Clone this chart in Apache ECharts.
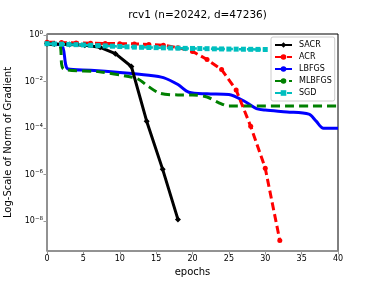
<!DOCTYPE html>
<html>
<head>
<meta charset="utf-8">
<script src="https://cdn.jsdelivr.net/npm/echarts@6/dist/echarts.min.js"></script>
<style>
html,body{margin:0;padding:0;background:#fff;}
#chart{width:376px;height:282px;}
</style>
</head>
<body>
<div id="chart"></div>
<script>
const titleText = 'rcv1 (n=20242, d=47236)';
const xAxisName = 'epochs';
const yAxisName = 'Log-Scale of Norm of Gradient';
const seriesNames = ['SACR', 'ACR', 'LBFGS', 'MLBFGS', 'SGD'];

const sacrEpochs = [0, 1.0, 3.1, 5.2, 7.3, 9.4, 11.6, 13.7, 15.9, 18.0];
const sacrValues = [0.43, 0.42, 0.40, 0.37, 0.30, 0.16, 0.045, 2e-4, 1.7e-6, 1.2e-8];

const acrEpochs = [0, 2, 4, 6, 8, 10, 12, 14, 16, 18, 20, 22, 24, 26, 28, 30, 32];
const acrValues = [0.5, 0.48, 0.46, 0.45, 0.44, 0.43, 0.42, 0.40, 0.37, 0.29, 0.2, 0.09, 0.033, 4.4e-3, 1.2e-4, 1.9e-6, 1.5e-9];

const lbfgsEpochs = [0, 2, 2.9, 6, 10, 14, 16, 18, 19.5, 22, 25, 27.2, 28.8, 30, 33, 36, 37, 38, 40];
const lbfgsValues = [0.42, 0.38, 0.035, 0.031, 0.025, 0.019, 0.015, 0.0075, 0.0035, 0.003, 0.0028, 0.0014, 0.0007, 0.0006, 0.0005, 0.0004, 0.0002, 0.0001, 0.0001];

const mlbfgsEpochs = [0, 1.7, 2.3, 7, 11, 12.5, 14, 15.5, 18, 20, 22, 23.5, 25, 40];
const mlbfgsValues = [0.42, 0.38, 0.035, 0.027, 0.017, 0.013, 0.006, 0.0032, 0.0027, 0.0027, 0.0022, 0.0013, 0.0009, 0.0009];

const sgdEpochs = [0,1,2,3,4,5,6,7,8,9,10,11,12,13,14,15,16,17,18,19,20,21,22,23,24,25,26,27,28,29,30];
const sgdValues = [0.43,0.42,0.41,0.40,0.39,0.38,0.365,0.355,0.345,0.335,0.325,0.315,0.305,0.30,0.295,0.29,0.285,0.28,0.275,0.27,0.268,0.265,0.262,0.258,0.255,0.252,0.25,0.248,0.246,0.244,0.242];

const xTicks = [0, 5, 10, 15, 20, 25, 30, 35, 40];
const yTickValues = [1, 1e-2, 1e-4, 1e-6, 1e-8];

function pairs(xs, ys) { return xs.map((x, i) => [x, ys[i]]); }

const chart = echarts.init(document.getElementById('chart'), null, {renderer: 'canvas'});
const FONT = 'DejaVu Sans';

chart.setOption({
  animation: false,
  backgroundColor: '#fff',
  textStyle: {fontFamily: FONT},
  title: {
    text: titleText, left: 192.5, top: 5, textAlign: 'center',
    textStyle: {fontFamily: FONT, fontSize: 10.5, fontWeight: 'normal', color: '#000'}
  },
  grid: {left: 47, right: 38, top: 34, bottom: 31, show: true, borderColor: '#000', borderWidth: 1,
    containLabel: false, outerBoundsMode: 'none'},
  legend: {
    orient: 'vertical', left: 271, top: 37,
    itemWidth: 17, itemHeight: 7, itemGap: 4,
    padding: [4, 3, 4, 3],
    borderColor: '#ccc', borderWidth: 1, borderRadius: 2,
    backgroundColor: 'rgba(255,255,255,0.8)',
    textStyle: {fontFamily: FONT, fontSize: 8, color: '#000', padding: [0,0,0,2]},
    data: seriesNames
  },
  xAxis: {
    type: 'value', min: 0, max: 40, interval: 5,
    name: xAxisName, nameLocation: 'middle', nameGap: 15,
    nameTextStyle: {fontFamily: FONT, fontSize: 10, color: '#000'},
    axisLine: {lineStyle: {color: '#999', width: 1.5}},
    axisTick: {length: 3.5, lineStyle: {color: '#999'}},
    axisLabel: {fontFamily: FONT, fontSize: 8, color: '#000', margin: 4,
      formatter: v => xTicks.includes(v) ? String(v) : ''},
    splitLine: {show: false}
  },
  yAxis: {
    type: 'log', logBase: 10, min: 5.25e-10, max: 1.12,
    name: yAxisName, nameLocation: 'middle', nameGap: 28,
    nameTextStyle: {fontFamily: FONT, fontSize: 10, color: '#000'},
    axisLine: {show: true, lineStyle: {color: '#999', width: 1.5}},
    axisTick: {length: 3.5, lineStyle: {color: '#999'}, customValues: yTickValues},
    minorTick: {show: false},
    splitLine: {show: false},
    axisLabel: {
      margin: 4, color: '#000', customValues: yTickValues,
      formatter: function (v) {
        const r = Math.round(Math.log10(v));
        const es = r < 0 ? '\u2212' + (-r) : String(r);
        return '{b|10}{s|' + es + '}';
      },
      rich: {
        b: {fontFamily: FONT, fontSize: 8, color: '#000'},
        s: {fontFamily: FONT, fontSize: 5.5, color: '#000', padding: [0, 0, 6, 0]}
      }
    }
  },
  series: [
    {name: 'SACR', type: 'line', data: pairs(sacrEpochs, sacrValues), color: '#000',
      lineStyle: {width: 3, color: '#000'}, symbol: 'diamond', symbolSize: 6,
      itemStyle: {color: '#000'}, z: 5},
    {name: 'ACR', type: 'line', data: pairs(acrEpochs, acrValues), color: '#ff0000',
      lineStyle: {width: 3, color: '#ff0000', type: [8, 4]}, symbol: 'circle', symbolSize: 5,
      itemStyle: {color: '#ff0000'}, z: 4},
    {name: 'LBFGS', type: 'line', data: pairs(lbfgsEpochs, lbfgsValues), color: '#0000ff', smooth: 0.3,
      lineStyle: {width: 3, color: '#0000ff'}, symbol: 'none',
      itemStyle: {color: '#0000ff'}, z: 3},
    {name: 'MLBFGS', type: 'line', data: pairs(mlbfgsEpochs, mlbfgsValues), color: '#008000', smooth: 0.3,
      lineStyle: {width: 3, color: '#008000', type: [9, 5]}, symbol: 'none',
      itemStyle: {color: '#008000'}, z: 3},
    {name: 'SGD', type: 'line', data: pairs(sgdEpochs, sgdValues), color: '#00bfbf',
      lineStyle: {width: 2.5, color: '#00bfbf', type: [6, 2, 2, 2]}, symbol: 'star', symbolSize: 5,
      itemStyle: {color: '#00bfbf'}, z: 6}
  ]
});
</script>
</body>
</html>
